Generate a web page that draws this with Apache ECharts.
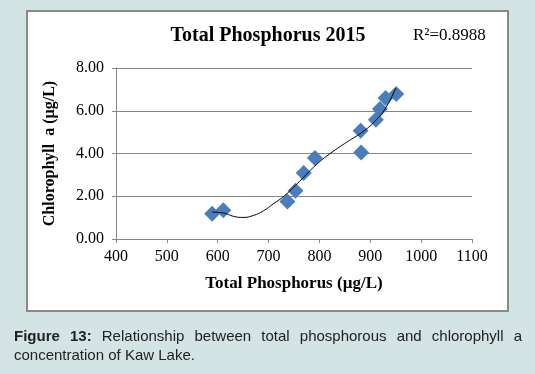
<!DOCTYPE html>
<html>
<head>
<meta charset="utf-8">
<script src="https://cdn.jsdelivr.net/npm/echarts@6/dist/echarts.min.js"></script>
<style>
html,body{margin:0;padding:0;background:#d4e3e3;width:535px;height:374px;overflow:hidden;}
#chart{position:absolute;left:0;top:0;width:535px;height:374px;}
#caption{position:absolute;left:14px;top:326px;width:508px;font-family:"Liberation Sans",Arial,sans-serif;font-size:15px;line-height:19px;color:#222;text-align:justify;text-align-last:left;}
</style>
</head>
<body>
<div id="chart"></div>
<div id="caption"><b>Figure 13:</b> Relationship between total phosphorous and chlorophyll a concentration of Kaw Lake.</div>
<script>
// Observed data: total phosphorus (µg/L) vs chlorophyll a (µg/L)
const phosphorus = [589, 611, 737, 753, 769, 791, 881, 882, 911, 919, 930, 951];
const chlorophyll = [1.18, 1.34, 1.76, 2.26, 3.09, 3.79, 5.07, 4.05, 5.58, 6.08, 6.60, 6.78];
// Trendline points
const trendX = [589, 611, 631, 650, 670, 690, 709, 732, 761, 794, 827, 859, 886, 912, 932, 950];
const trendY = [1.26, 1.22, 1.06, 1.01, 1.10, 1.32, 1.64, 2.04, 2.70, 3.48, 4.10, 4.61, 5.03, 5.58, 6.20, 7.06];
const xTicks = [400, 1100, 100];
const yTicks = [0, 8, 2];
const titleText = 'Total Phosphorus 2015';
const r2Text = 'R\u00B2=0.8988';
const xName = 'Total Phosphorus (\u00B5g/L)';
const yName = 'Chlorophyll  a (\u00B5g/L)';

const chart = echarts.init(document.getElementById('chart'), null, {renderer: 'canvas'});
const serif = 'Liberation Serif';
chart.setOption({
  animation: false,
  backgroundColor: 'transparent',
  graphic: [
    {type: 'rect', z: -10, shape: {x: 27, y: 11, width: 481, height: 300},
     style: {fill: '#ffffff', stroke: '#8a8a8a', lineWidth: 2}},
    {type: 'text', z: 10, style: {text: titleText, x: 268, y: 36, align: 'center', verticalAlign: 'middle', font: 'bold 20px "Liberation Serif"', fill: '#000'}},
    {type: 'text', z: 10, style: {text: r2Text, x: 413, y: 36, align: 'left', verticalAlign: 'middle', font: '17px "Liberation Serif"', fill: '#000'}}
  ],
  grid: {left: 116, right: 63, top: 68, bottom: 135, containLabel: false},
  xAxis: {
    type: 'value', min: xTicks[0], max: xTicks[1], interval: xTicks[2],
    name: xName, nameLocation: 'middle', nameGap: 36,
    nameTextStyle: {fontFamily: serif, fontWeight: 'bold', fontSize: 17, color: '#000'},
    axisLine: {show: true, onZero: false, lineStyle: {color: '#868686', width: 1}},
    axisTick: {show: true, length: 4, lineStyle: {color: '#868686'}},
    axisLabel: {fontFamily: serif, fontSize: 16, color: '#000', margin: 10,
      formatter: v => String(v)},
    splitLine: {show: false}
  },
  yAxis: {
    type: 'value', min: yTicks[0], max: yTicks[1], interval: yTicks[2],
    name: yName, nameLocation: 'middle', nameGap: 58,
    nameTextStyle: {fontFamily: serif, fontWeight: 'bold', fontSize: 16, color: '#000'},
    axisLine: {show: true, lineStyle: {color: '#868686', width: 1}},
    axisTick: {show: true, length: 4, lineStyle: {color: '#868686'}},
    axisLabel: {fontFamily: serif, fontSize: 16, color: '#000', margin: 12,
      formatter: v => v.toFixed(2)},
    splitLine: {show: true, lineStyle: {color: '#868686', width: 1}}
  },
  series: [
    {type: 'scatter', symbol: 'diamond', symbolSize: 16, z: 3,
     itemStyle: {color: '#4A7EBB', opacity: 1},
     data: phosphorus.map((x, i) => [x, chlorophyll[i]])},
    {type: 'line', smooth: true, showSymbol: false, z: 4,
     lineStyle: {color: '#000', width: 1},
     data: trendX.map((x, i) => [x, trendY[i]])}
  ]
});
</script>
</body>
</html>
